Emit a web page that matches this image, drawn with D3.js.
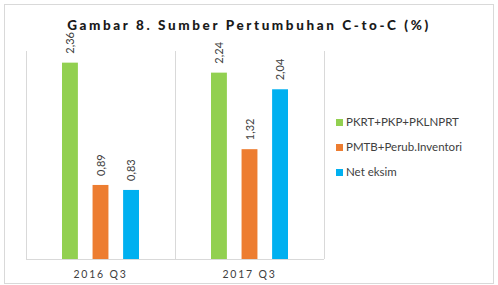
<!DOCTYPE html>
<html>
<head>
<meta charset="utf-8">
<script src="https://cdn.jsdelivr.net/npm/d3@7"></script>
<style>
  body { margin: 0; background: #fff; }
  text { font-family: Lato, "Open Sans", sans-serif; }
</style>
</head>
<body>
<div id="chart"></div>
<script>
// data
const categories = ["2016 Q3", "2017 Q3"];
const seriesNames = ["PKRT+PKP+PKLNPRT", "PMTB+Perub.Inventori", "Net eksim"];
const pkrt = [2.36, 2.24];
const pmtb = [0.89, 1.32];
const eksim = [0.83, 2.04];
const colors = ["#92D050", "#ED7D31", "#00B0F0"];

const svgWidth = 498, svgHeight = 285;
const margin = { top: 51, left: 26, right: 174, bottom: 26 };
const width = svgWidth - margin.left - margin.right;
const height = svgHeight - margin.top - margin.bottom;

const svg = d3.select("#chart").append("svg")
    .attr("width", svgWidth)
    .attr("height", svgHeight);

// outer border
svg.append("rect")
    .attr("x", 4.5).attr("y", 4.5)
    .attr("width", 489).attr("height", 279)
    .attr("fill", "#fff")
    .attr("stroke", "#d9d9d9");

// title
svg.append("text")
    .attr("x", 249)
    .attr("y", 30)
    .attr("text-anchor", "middle")
    .style("font-size", "13.5px")
    .style("font-weight", "900")
    .style("letter-spacing", "2.6px")
    .attr("fill", "#1a1a1a")
    .text("Gambar 8. Sumber Pertumbuhan C-to-C (%)");

const g = svg.append("g")
    .attr("transform", "translate(" + margin.left + "," + margin.top + ")");

const x0 = d3.scaleBand().domain(categories).range([0, width]);
const x1 = d3.scaleBand().domain(seriesNames).range([36, x0.bandwidth() - 36]).paddingInner(0.48);
const y = d3.scaleLinear().domain([0, 2.5]).range([height, 0]);

// category separators
const edges = categories.map(c => x0(c)).concat([width]);
g.selectAll(".sep")
    .data(edges)
    .enter().append("line")
    .attr("x1", d => d + 0.5).attr("x2", d => d + 0.5)
    .attr("y1", 0).attr("y2", height)
    .attr("stroke", "#d9d9d9");

// baseline
g.append("line")
    .attr("x1", 0).attr("x2", width)
    .attr("y1", height + 0.5).attr("y2", height + 0.5)
    .attr("stroke", "#d9d9d9");

const rows = [];
categories.forEach((c, i) => {
    [pkrt, pmtb, eksim].forEach((s, j) => {
        rows.push({ cat: c, name: seriesNames[j], value: s[i], color: colors[j] });
    });
});

g.selectAll(".bar")
    .data(rows)
    .enter().append("rect")
    .attr("class", "bar")
    .attr("x", d => x0(d.cat) + x1(d.name))
    .attr("width", x1.bandwidth())
    .attr("y", d => y(d.value))
    .attr("height", d => height - y(d.value))
    .attr("fill", d => d.color);

// value labels, rotated
g.selectAll(".lbl")
    .data(rows)
    .enter().append("text")
    .attr("transform", d => "translate(" + (x0(d.cat) + x1(d.name) + x1.bandwidth() / 2 + 4) + "," + (y(d.value) - 9) + ") rotate(-90)")
    .attr("text-anchor", "start")
    .style("font-size", "11px")
    .attr("fill", "#404040")
    .text(d => d.value.toFixed(2).replace(".", ","));

// category labels
g.selectAll(".cat")
    .data(categories)
    .enter().append("text")
    .attr("x", d => x0(d) + x0.bandwidth() / 2)
    .attr("y", height + 19)
    .attr("text-anchor", "middle")
    .style("font-size", "10.5px")
    .style("letter-spacing", "1.8px")
    .attr("fill", "#404040")
    .text(d => d);

// legend
const legend = svg.append("g").attr("transform", "translate(336,122)");
seriesNames.forEach((n, i) => {
    legend.append("rect")
        .attr("x", 0).attr("y", i * 25 - 3)
        .attr("width", 7).attr("height", 7)
        .attr("fill", colors[i]);
    legend.append("text")
        .attr("x", 10).attr("y", i * 25 + 4)
        .style("font-size", "11.5px")
        .attr("fill", "#404040")
        .text(n);
});
</script>
</body>
</html>
